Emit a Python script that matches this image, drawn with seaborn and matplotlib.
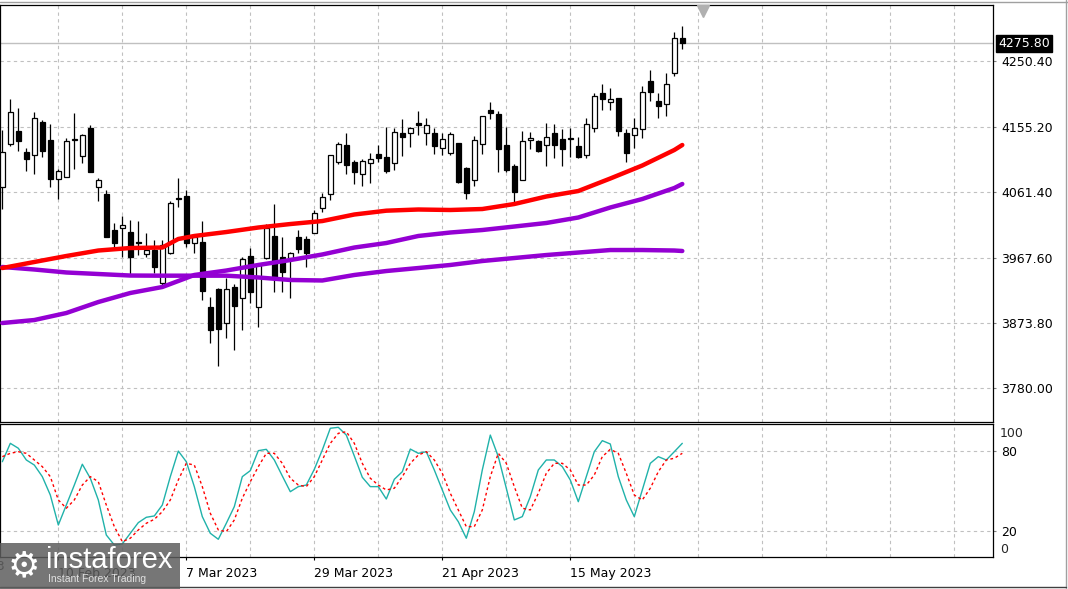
import numpy as np
import pandas as pd
import matplotlib
matplotlib.use("Agg")
import matplotlib.pyplot as plt
import matplotlib.transforms as mtransforms
from matplotlib.patches import Rectangle
from matplotlib.lines import Line2D
import seaborn as sns

# ---------------- data ----------------
open_ = [4068.7, 4130.6, 4149.7, 4119.9, 4114.8, 4162.7, 4136.3, 4080.2, 4084.0, 4136.8,
         4113.3, 4153.6, 4068.7, 4058.7, 4006.9, 4009.5, 4004.0, 3990.0, 3972.3, 3978.5,
         3930.6, 3973.8, 4053.3, 4056.2, 3989.0, 3990.5, 3897.0, 3922.4, 3873.1, 3925.7,
         3909.1, 3969.9, 3896.1, 3966.6, 3998.7, 3968.0, 3966.6, 3996.8, 3993.9, 4003.4,
         4038.5, 4058.7, 4105.5, 4129.1, 4105.1, 4087.4, 4103.2, 4116.2, 4112.3, 4104.4,
         4146.8, 4146.4, 4160.8, 4147.5, 4146.8, 4125.3, 4118.8, 4132.4, 4096.5, 4079.2,
         4130.6, 4179.9, 4173.7, 4128.9, 4099.4, 4079.7, 4136.3, 4135.3, 4128.9, 4146.4,
         4138.2, 4139.6, 4127.7, 4115.8, 4154.7, 4204.4, 4191.0, 4197.6, 4146.4, 4143.5,
         4152.2, 4221.3, 4192.9, 4189.1, 4232.7, 4283.1]
high = [4151.1, 4195.7, 4182.8, 4125.7, 4176.6, 4165.5, 4159.8, 4094.6, 4139.6, 4175.2,
        4145.0, 4157.9, 4081.7, 4064.8, 4016.9, 4027.4, 4021.7, 4020.7, 4002.6, 3992.9,
        3992.9, 4049.4, 4081.7, 4064.8, 4001.5, 4020.7, 3911.4, 3923.4, 3938.3, 3929.6,
        3968.9, 3981.0, 3960.3, 4015.9, 4044.7, 3997.7, 3975.6, 4007.3, 3998.7, 4036.1,
        4060.1, 4115.2, 4134.3, 4147.3, 4108.0, 4109.0, 4117.6, 4129.6, 4155.9, 4154.0,
        4166.5, 4155.9, 4178.0, 4168.0, 4153.6, 4146.4, 4147.8, 4132.9, 4098.4, 4142.5,
        4171.3, 4191.4, 4178.5, 4155.0, 4102.2, 4149.7, 4149.0, 4136.8, 4161.2, 4159.8,
        4151.9, 4153.6, 4141.5, 4168.0, 4204.8, 4217.3, 4211.1, 4197.9, 4152.2, 4168.0,
        4214.9, 4237.5, 4203.9, 4232.7, 4292.6, 4301.2]
low = [4037.5, 4128.6, 4121.4, 4092.6, 4088.3, 4111.9, 4069.6, 4051.5, 4083.1, 4094.6,
       4103.2, 4090.7, 4048.6, 3997.2, 3983.3, 3968.0, 3942.6, 3971.3, 3968.9, 3945.0,
       3928.2, 3973.5, 4040.8, 3982.8, 3973.8, 3906.6, 3845.2, 3812.1, 3852.4, 3834.7,
       3863.4, 3901.9, 3867.3, 3966.3, 3918.5, 3918.5, 3909.1, 3973.8, 3954.5, 4003.0,
       4033.6, 4050.5, 4102.2, 4087.9, 4073.0, 4070.6, 4075.3, 4105.5, 4089.7, 4093.6,
       4114.2, 4127.1, 4143.5, 4129.6, 4117.1, 4115.2, 4115.2, 4075.3, 4052.3, 4070.6,
       4116.2, 4166.5, 4091.2, 4091.2, 4048.0, 4079.2, 4123.8, 4119.5, 4099.4, 4110.4,
       4099.8, 4111.9, 4111.3, 4110.4, 4148.7, 4179.9, 4179.9, 4142.5, 4104.7, 4124.8,
       4140.1, 4192.9, 4168.0, 4171.3, 4229.3, 4267.7]
close = [4119.9, 4176.6, 4135.8, 4109.9, 4168.0, 4120.5, 4081.1, 4092.2, 4134.9, 4138.2,
         4144.7, 4091.2, 4079.2, 3997.7, 3989.0, 4013.8, 3968.9, 3988.6, 3978.5, 3954.5,
         3985.7, 4045.7, 4051.9, 3989.0, 3997.7, 3920.0, 3863.4, 3864.9, 3922.0, 3898.4,
         3965.2, 3918.5, 3957.0, 4009.7, 3940.1, 3947.3, 3974.6, 3980.4, 3973.8, 4031.3,
         4054.3, 4114.8, 4130.6, 4100.4, 4091.2, 4106.1, 4109.0, 4111.3, 4092.9, 4149.0,
         4141.5, 4154.0, 4158.8, 4157.9, 4128.6, 4137.8, 4145.4, 4076.8, 4061.0, 4136.8,
         4170.6, 4175.2, 4124.5, 4093.6, 4062.4, 4135.0, 4139.9, 4121.4, 4141.5, 4130.0,
         4124.5, 4138.5, 4112.7, 4159.5, 4199.6, 4195.7, 4195.7, 4150.1, 4117.6, 4154.0,
         4205.4, 4206.2, 4186.0, 4217.3, 4283.1, 4275.8]

ma_fast_bar = [0, 4, 8, 12, 16, 20, 22, 24, 28, 32, 36, 40, 44, 48, 52, 56, 60, 64, 68, 72, 76, 80, 84, 85]
ma_fast = [3952.6, 3961.3, 3969.9, 3977.8, 3981.4, 3982.1, 3994.4, 3998.7, 4004.4, 4010.9, 4015.9, 4020.2,
           4029.6, 4035.1, 4036.8, 4036.1, 4037.5, 4044.7, 4055.5, 4063.4, 4081.4, 4100.1, 4122.4, 4129.6]
ma_bar = [0, 4, 8, 12, 16, 20, 24, 28, 32, 36, 40, 44, 48, 52, 56, 60, 64, 68, 72, 76, 80, 84, 85]
ma_mid = [3873.5, 3877.8, 3887.9, 3903.7, 3916.7, 3925.3, 3942.6, 3949.0, 3957.0, 3964.1, 3972.1, 3982.1,
          3988.6, 3998.7, 4003.7, 4007.3, 4012.3, 4017.4, 4025.3, 4039.7, 4051.9, 4067.7, 4073.5]
ma_slow = [3954.1, 3950.5, 3946.2, 3944.0, 3941.8, 3941.6, 3941.6, 3941.6, 3939.0, 3935.4, 3934.7, 3942.6,
           3948.3, 3952.6, 3957.0, 3962.7, 3967.0, 3971.3, 3974.9, 3978.5, 3978.5, 3977.8, 3977.1]

stoch_k = [72.0, 85.8, 82.1, 73.3, 69.5, 60.8, 47.0, 24.5, 39.5, 54.5,
           70.1, 59.6, 43.3, 17.0, 9.5, 10.3, 18.3, 26.3, 30.3, 31.3,
           39.5, 60.8, 80.0, 72.0, 53.3, 30.8, 18.3, 13.8, 25.8, 38.3,
           60.8, 65.3, 80.3, 81.3, 73.3, 61.3, 49.5, 53.3, 54.5, 66.3,
           80.8, 97.1, 97.8, 92.0, 76.3, 60.3, 53.3, 53.3, 44.0, 58.8,
           64.5, 81.5, 78.3, 79.5, 65.8, 50.8, 35.8, 27.0, 14.6, 34.5,
           65.8, 92.0, 75.8, 52.1, 28.3, 30.8, 45.8, 65.8, 73.3, 73.3,
           68.3, 58.3, 42.0, 60.8, 79.5, 87.8, 85.3, 60.8, 43.3, 30.8,
           50.8, 70.8, 75.8, 73.3, 79.5, 85.8]
stoch_d = [75.8, 78.3, 79.5, 78.3, 73.3, 68.3, 60.8, 43.3, 37.1, 43.3,
           54.5, 60.8, 57.0, 39.5, 23.3, 12.0, 14.6, 20.8, 25.8, 28.8,
           34.5, 43.3, 58.3, 70.8, 69.5, 53.3, 33.3, 20.8, 19.5, 28.3,
           44.6, 57.0, 68.3, 78.3, 78.3, 70.8, 59.6, 54.5, 53.3, 60.8,
           73.3, 85.8, 93.3, 94.5, 85.8, 70.8, 59.6, 54.5, 50.8, 52.1,
           60.8, 70.8, 77.0, 79.5, 73.3, 63.3, 48.3, 35.8, 23.3, 23.3,
           35.8, 60.8, 78.3, 70.8, 53.3, 37.1, 35.8, 48.3, 63.3, 70.8,
           70.8, 65.8, 54.5, 54.5, 62.0, 75.8, 81.3, 78.3, 63.3, 47.0,
           43.3, 52.1, 64.5, 73.3, 74.6, 78.3]

price_levels = [4250.40, 4155.20, 4061.40, 3967.60, 3873.80, 3780.00]
date_bars = [7, 23, 39, 55, 71]
date_labels = ["10 Feb 2023", "7 Mar 2023", "29 Mar 2023", "21 Apr 2023", "15 May 2023"]
prev_date_bar = -9
prev_date_label = "19 Jan 2023"

# ---------------- style ----------------
sns.set_theme(style="white")
plt.rcParams['font.family'] = ['DejaVu Sans']
plt.rcParams['axes.linewidth'] = 0.9

W, H = 1068, 589
fig = plt.figure(figsize=(W / 100, H / 100), dpi=100)
fig.patch.set_facecolor("white")


def rect(x0, y0, x1, y1):
    return [x0 / W, 1 - y1 / H, (x1 - x0) / W, (y1 - y0) / H]


ax = fig.add_axes(rect(0, 5, 993, 422))
axo = fig.add_axes(rect(0, 424, 993, 557))

n = len(close)
idx = np.arange(n)
xlim = (-0.29, 123.84)
grid_kw = dict(color="#c0c0c0", linewidth=0.8, linestyle=(0, (3, 3)))

for a in (ax, axo):
    a.set_facecolor("white")
    for s in a.spines.values():
        s.set_color("black")
        s.set_linewidth(0.9)
    a.set_xlim(*xlim)
    a.set_xticks(np.arange(7, 124, 8), minor=True)
    a.grid(True, which="minor", axis="x", **grid_kw)
    a.yaxis.tick_right()
    a.tick_params(axis="y", which="both", right=True, left=False, length=2,
                  width=0.8, color="#808080", pad=4, labelsize=9, labelcolor="black")
    a.tick_params(axis="x", which="minor", length=0)

# ---------------- main panel ----------------
ax.set_ylim(3731.1, 4331.0)
ax.set_yticks(price_levels)
ax.set_yticklabels([f"{v:.2f}" for v in price_levels])
ax.grid(True, which="major", axis="y", **grid_kw)
ax.set_xticks([])
ax.axhline(close[-1], color="#c0c0c0", linewidth=1.0, zorder=1)

o = np.array(open_)
c = np.array(close)
up = c >= o
body_bottom = np.minimum(o, c)
body_h = np.maximum(np.abs(c - o), 0.6)
ax.vlines(idx, low, high, color="black", linewidth=0.9, zorder=2)
ax.bar(idx[up], body_h[up], bottom=body_bottom[up], width=0.6,
       color="white", edgecolor="black", linewidth=0.9, zorder=3)
ax.bar(idx[~up], body_h[~up], bottom=body_bottom[~up], width=0.6,
       color="black", edgecolor="black", linewidth=0.9, zorder=3)

sns.lineplot(x=ma_bar, y=ma_slow, ax=ax, color="#9400d3", linewidth=3.2, legend=False, zorder=4)
sns.lineplot(x=ma_bar, y=ma_mid, ax=ax, color="#9400d3", linewidth=3.2, legend=False, zorder=4)
sns.lineplot(x=ma_fast_bar, y=ma_fast, ax=ax, color="#ff0000", linewidth=3.2, legend=False, zorder=5)
ax.set_xlabel("")
ax.set_ylabel("")

# current price marker
btrans = mtransforms.blended_transform_factory(ax.transAxes, ax.transData)
ax.text(1.0055, close[-1], f"{close[-1]:.2f}", transform=btrans, ha="left", va="center",
        fontsize=9, color="white", zorder=10,
        bbox=dict(boxstyle="square,pad=0.18", fc="black", ec="black"))
# shift marker
ax.plot([0.708], [0.985], marker="v", markersize=8, color="#b0b0b0",
        transform=ax.transAxes, clip_on=False, zorder=6)

# ---------------- oscillator ----------------
axo.set_ylim(0.5, 100.3)
axo.set_yticks([80, 20])
axo.set_yticklabels(["80", "20"])
axo.grid(True, which="major", axis="y", **grid_kw)
axo.set_xticks(date_bars)
axo.set_xticklabels(date_labels)
axo.grid(False, which="major", axis="x")
axo.tick_params(axis="x", which="major", length=2, width=0.8, color="black",
                pad=5, labelsize=9, labelcolor="black", bottom=True)
for lbl in axo.get_xticklabels():
    lbl.set_horizontalalignment("left")
for v in date_bars:
    axo.axvline(v, **grid_kw, zorder=0)

sns.lineplot(x=idx, y=stoch_k, ax=axo, color="#20b2aa", linewidth=1.0, legend=False, zorder=4)
sns.lineplot(x=idx, y=stoch_d, ax=axo, color="#ff0000", linewidth=1.0, legend=False, zorder=5,
             linestyle=(0, (2, 2)))
axo.set_xlabel("")
axo.set_ylabel("")
axo.text(1.007, 0.925, "100", transform=axo.transAxes, ha="left", va="center", fontsize=9)
axo.text(1.007, 0.06, "0", transform=axo.transAxes, ha="left", va="center", fontsize=9)

# partially visible earlier date label (hidden behind the logo as in the reference)
t = mtransforms.blended_transform_factory(axo.transData, axo.transAxes)
axo.text(prev_date_bar, -0.025, prev_date_label, transform=t, ha="left", va="top",
         fontsize=9, clip_on=False)

# ---------------- frame lines ----------------
fig.add_artist(Line2D([0, 1], [1 - 1.5 / H] * 2, transform=fig.transFigure, color="#a0a0a0", lw=1))
fig.add_artist(Line2D([1065.5 / W] * 2, [0, 1], transform=fig.transFigure, color="#a0a0a0", lw=1))
fig.add_artist(Line2D([0, 1065.5 / W], [1 - 586.5 / H] * 2, transform=fig.transFigure, color="#404040", lw=1))

# ---------------- logo ----------------
fig.add_artist(Rectangle((0, 0), 180 / W, 46 / H, transform=fig.transFigure,
                         facecolor="#5e5e5e", edgecolor="none", alpha=0.85, zorder=20))
fig.text(24 / W, 1 - 566 / H, "\u2699", fontsize=26, color="white", ha="center", va="center",
         zorder=21)
fig.text(46 / W, 1 - 560 / H, "instaforex", fontsize=21, color="white", ha="left", va="center",
         family=["Liberation Sans", "DejaVu Sans"], zorder=21)
fig.text(48 / W, 1 - 579 / H, "Instant Forex Trading", fontsize=7.5, color="#e0e0e0",
         ha="left", va="center", family=["Liberation Sans", "DejaVu Sans"], zorder=21)

fig.savefig("out.png", dpi=100, facecolor="white")
